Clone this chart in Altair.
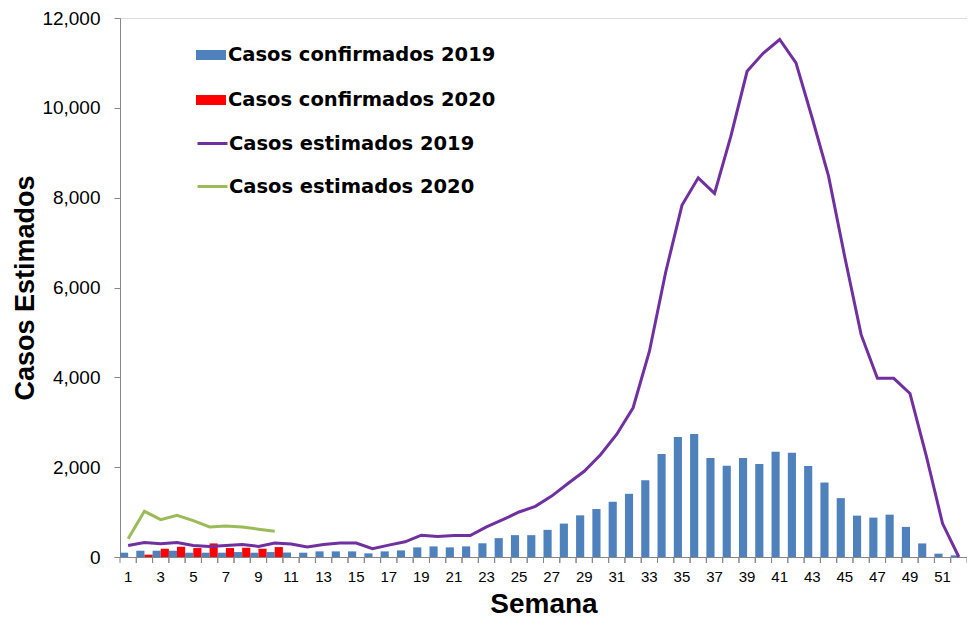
import altair as alt
import pandas as pd

weeks = list(range(1, 53))

conf_2019 = [96, 140, 140, 140, 96, 96, 96, 110, 96, 110,
             100, 96, 125, 125, 125, 81, 125, 147, 214, 236,
             214, 236, 305, 420, 486, 486, 604, 744, 928, 1068,
             1230, 1407, 1709, 2291, 2674, 2740, 2206, 2030, 2203, 2070,
             2343, 2320, 2026, 1658, 1311, 921, 877, 943, 670, 302,
             74, 37]
weeks_2020 = list(range(1, 11))
conf_2020 = [0, 52, 184, 228, 199, 302, 199, 206, 184, 221]
est_2019 = [258, 324, 295, 324, 258, 236, 258, 280, 236, 309,
            287, 221, 280, 309, 309, 184, 265, 339, 486, 457,
            479, 479, 670, 830, 1002, 1127, 1355, 1635, 1908, 2276,
            2733, 3322, 4575, 6340, 7830, 8442, 8095, 9364, 10814, 11220,
            11521, 11000, 9768, 8480, 6674, 4950, 3978, 3978, 3640, 2250,
            744, 0]
est_2020 = [405, 1017, 833, 928, 811, 670, 692, 670, 619, 575]
y_ticks = [0, 2000, 4000, 6000, 8000, 10000, 12000]

bar_names = ["Casos confirmados 2019", "Casos confirmados 2020"]
bar_colors = ["#4F81BD", "#FF0000"]
line_names = ["Casos estimados 2019", "Casos estimados 2020"]
line_colors = ["#7030A0", "#9BBB59"]

bars = pd.concat([
    pd.DataFrame({"week": weeks, "value": conf_2019, "serie": bar_names[0]}),
    pd.DataFrame({"week": weeks_2020, "value": conf_2020, "serie": bar_names[1]}),
])
lines = pd.concat([
    pd.DataFrame({"week": weeks, "value": est_2019, "serie": line_names[0]}),
    pd.DataFrame({"week": weeks_2020, "value": est_2020, "serie": line_names[1]}),
])
ticks_df = pd.DataFrame({"week": weeks})

W, H = 847, 539
grey = "#868686"


def x_axis():
    return alt.Axis(
        labelExpr="datum.value % 2 == 1 ? datum.label : ''",
        labelAngle=0, ticks=False, tickSize=0,
        labelOverlap=False, labelBound=False, labelFlush=False,
        labelFont="Liberation Sans", labelFontSize=15, labelColor="black",
        labelPadding=12, domainColor=grey, domainWidth=1,
        title="Semana", titleFont="Liberation Sans", titleFontSize=28,
        titleFontWeight="bold", titleColor="black", titlePadding=6,
    )


def y_axis():
    return alt.Axis(
        values=y_ticks, labelExpr="format(datum.value, ',')",
        grid=False, tickSize=6, tickColor=grey, domainColor=grey,
        labelFont="Liberation Sans", labelFontSize=19, labelColor="black",
        labelPadding=14, title="Casos Estimados", titleFont="Liberation Sans",
        titleFontSize=27, titleFontWeight="bold", titleColor="black", titlePadding=2,
    )


x_scale = alt.Scale(domain=weeks, paddingInner=0, paddingOuter=0)
y_scale = alt.Scale(domain=[0, 12000])

bar_layer = alt.Chart(bars).mark_bar().encode(
    x=alt.X("week:O", scale=x_scale, axis=x_axis()),
    xOffset=alt.XOffset("serie:N", scale=alt.Scale(domain=bar_names, paddingInner=0, paddingOuter=0)),
    y=alt.Y("value:Q", scale=y_scale, axis=y_axis()),
    color=alt.Color(
        "serie:N",
        scale=alt.Scale(domain=bar_names, range=bar_colors),
        legend=alt.Legend(
            title=None, orient="none", legendX=81, legendY=27, padding=0,
            symbolType="M-1.5,-0.5H1.5V0.5H-1.5Z", symbolSize=400,
            symbolStrokeWidth=0, labelFont="DejaVu Sans", labelFontWeight="bold",
            labelFontSize=19.5, labelColor="black", labelOffset=7, rowPadding=25,
            labelLimit=500,
        ),
    ),
)

line_layer = alt.Chart(lines).mark_line(strokeWidth=3).encode(
    x=alt.X("week:O", scale=x_scale, axis=x_axis()),
    y=alt.Y("value:Q", scale=y_scale, axis=y_axis()),
    stroke=alt.Stroke(
        "serie:N",
        scale=alt.Scale(domain=line_names, range=line_colors),
        legend=alt.Legend(
            title=None, orient="none", legendX=76, legendY=109, padding=0,
            symbolType="stroke", symbolSize=900, symbolStrokeWidth=3,
            labelFont="DejaVu Sans", labelFontWeight="bold",
            labelFontSize=19.5, labelColor="black", labelOffset=0, rowPadding=17,
            labelLimit=500,
        ),
    ),
    detail="serie:N",
)

tick0 = alt.Chart(ticks_df).mark_rule(color=grey, strokeWidth=1).encode(
    x=alt.X("week:O", bandPosition=0, scale=x_scale, axis=x_axis()),
    y=alt.value(H), y2=alt.value(H + 6)
)
tick1 = alt.Chart(ticks_df).mark_rule(color=grey, strokeWidth=1).encode(
    x=alt.X("week:O", bandPosition=1, scale=x_scale, axis=x_axis()),
    y=alt.value(H), y2=alt.value(H + 6)
)

chart = alt.layer(bar_layer, line_layer, tick0, tick1).resolve_scale(
    color="independent", stroke="independent"
).properties(
    width=W, height=H,
    autosize=alt.AutoSizeParams(type="none"),
    padding={"left": 112, "top": 10, "right": 0, "bottom": 63},
).configure_view(stroke=None).configure(background="white")

chart.save("out.html", embed_options={"renderer": "svg", "actions": False})
